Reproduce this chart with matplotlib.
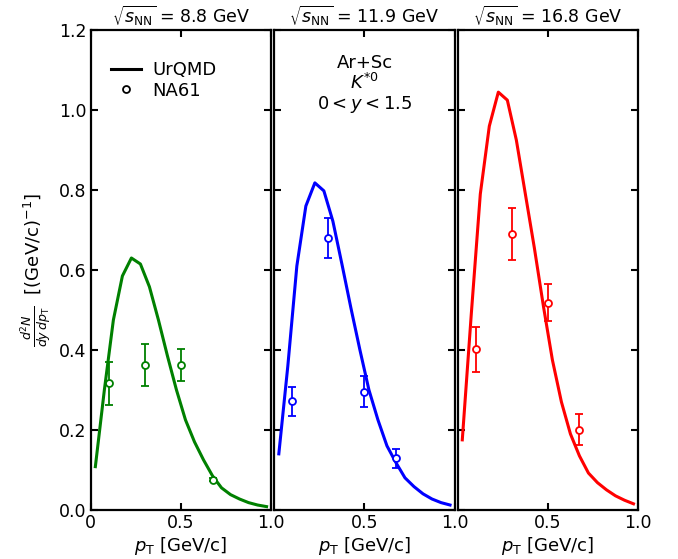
import matplotlib
matplotlib.use("Agg")
import matplotlib.pyplot as plt
import numpy as np

# UrQMD curve pT bin centres
pt_model = [0.025, 0.075, 0.125, 0.175, 0.225, 0.275, 0.325, 0.375, 0.425, 0.475,
            0.525, 0.575, 0.625, 0.675, 0.725, 0.775, 0.825, 0.875, 0.925, 0.975]
urqmd_88 = [0.108, 0.30, 0.475, 0.585, 0.630, 0.615, 0.558, 0.475, 0.385, 0.30,
            0.225, 0.170, 0.125, 0.085, 0.055, 0.038, 0.027, 0.018, 0.012, 0.008]
urqmd_119 = [0.14, 0.36, 0.61, 0.76, 0.818, 0.798, 0.722, 0.615, 0.505, 0.40,
             0.30, 0.225, 0.16, 0.118, 0.08, 0.058, 0.04, 0.027, 0.018, 0.012]
urqmd_168 = [0.175, 0.49, 0.79, 0.96, 1.045, 1.025, 0.925, 0.79, 0.655, 0.51,
             0.375, 0.27, 0.19, 0.135, 0.092, 0.068, 0.05, 0.035, 0.024, 0.015]

# NA61 data
pt_data = [0.1, 0.3, 0.5, 0.675]
na61_88 = [0.317, 0.362, 0.363, 0.075]
err_88 = [0.054, 0.052, 0.040, 0.004]
na61_119 = [0.271, 0.679, 0.296, 0.129]
err_119 = [0.037, 0.050, 0.039, 0.024]
na61_168 = [0.402, 0.690, 0.518, 0.200]
err_168 = [0.056, 0.065, 0.046, 0.039]

energies = ["8.8", "11.9", "16.8"]
colors = ["green", "blue", "red"]
models = [urqmd_88, urqmd_119, urqmd_168]
datas = [na61_88, na61_119, na61_168]
errs = [err_88, err_119, err_168]

fig = plt.figure(figsize=(6.78, 5.59), dpi=100)
fig.subplots_adjust(left=0.134, right=0.941, top=0.946, bottom=0.088, wspace=0.018)
axes = [fig.add_subplot(1, 3, i + 1) for i in range(3)]

for i, ax in enumerate(axes):
    c = colors[i]
    ax.plot(pt_model, models[i], color=c, lw=2.2)
    ax.errorbar(pt_data, datas[i], yerr=errs[i], fmt='o', color=c, mfc='white',
                mec=c, ms=5, mew=1.3, capsize=3, elinewidth=1.3, capthick=1.3)
    ax.set_xlim(0, 1.0)
    ax.set_ylim(0, 1.2)
    ax.set_yticks(np.arange(0, 1.21, 0.2))
    if i == 0:
        ax.set_xticks([0, 0.5, 1.0])
        ax.set_xticklabels(["0", "0.5", "1.0"])
        ax.set_yticklabels(["%.1f" % v for v in np.arange(0, 1.21, 0.2)])
    else:
        ax.set_xticks([0.5, 1.0])
        ax.set_xticklabels(["0.5", "1.0"])
        ax.set_yticklabels([])
    ax.tick_params(direction='in', top=True, right=True, length=5, width=1.5,
                   labelsize=12.5, pad=3)
    for s in ax.spines.values():
        s.set_linewidth(1.6)
    ax.set_xlabel(r"$p_\mathrm{T}$ [GeV/c]", fontsize=13, labelpad=2)
    ax.set_title(r"$\sqrt{s_\mathrm{NN}}$ = %s GeV" % energies[i], fontsize=12.5, pad=5)

axes[0].set_ylabel(r"$\frac{d^2N}{dy\,dp_\mathrm{T}}$  [(GeV/c)$^{-1}$]", fontsize=13, labelpad=4)

# legend
h1, = axes[0].plot([], [], color='black', lw=2.2, label='UrQMD')
h2, = axes[0].plot([], [], 'o', color='black', mfc='white', ms=5, mew=1.3, label='NA61')
axes[0].legend(handles=[h1, h2], loc='upper left', bbox_to_anchor=(0.02, 0.97),
               frameon=False, fontsize=13, handlelength=1.7, labelspacing=0.15,
               handletextpad=0.6)

axes[1].text(0.5, 0.95, "Ar+Sc\n$K^{*0}$\n$0 < y < 1.5$", transform=axes[1].transAxes,
             ha='center', va='top', fontsize=13, linespacing=1.05)

fig.savefig("out.png", dpi=100)
